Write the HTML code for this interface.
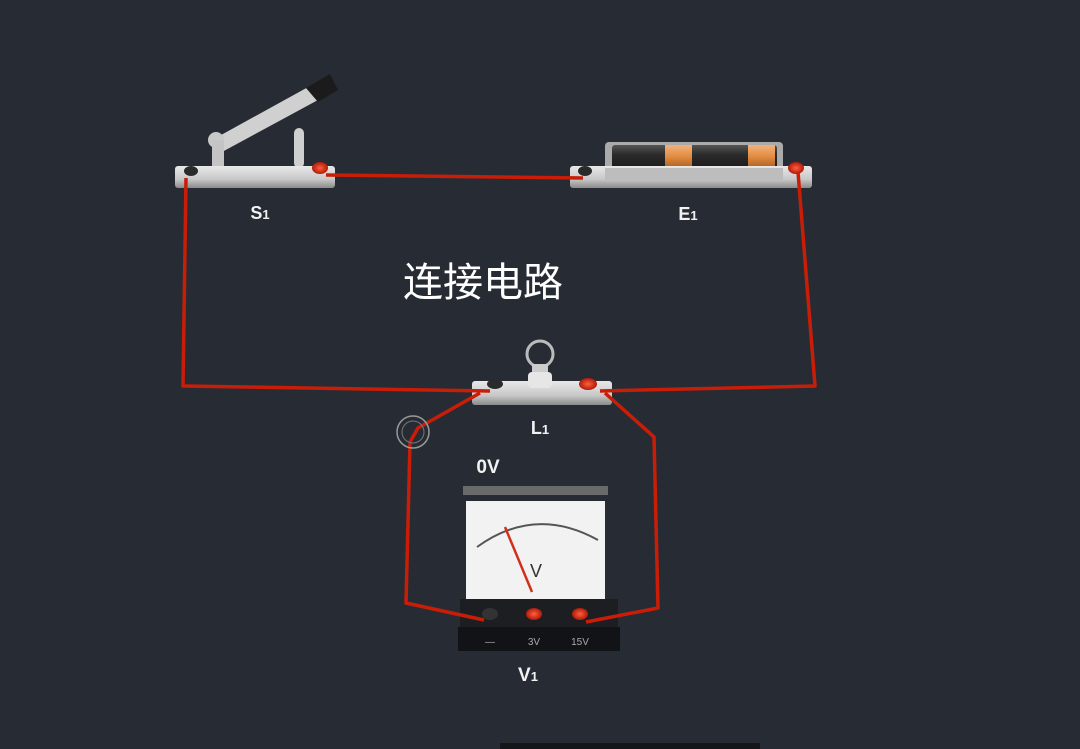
<!DOCTYPE html>
<html><head><meta charset="utf-8"><style>
html,body{margin:0;padding:0;background:#272c34;}
svg{display:block}
text{font-family:"Liberation Sans","Noto Sans CJK SC",sans-serif;fill:#f2f2f2}
</style></head><body>
<svg width="1080" height="749" viewBox="0 0 1080 749" xmlns="http://www.w3.org/2000/svg">
<defs>
<linearGradient id="metal" x1="0" y1="0" x2="0" y2="1"><stop offset="0" stop-color="#e8e8e8"/><stop offset="0.6" stop-color="#c8c8c8"/><stop offset="1" stop-color="#8a8a8a"/></linearGradient>
<linearGradient id="bat" x1="0" y1="0" x2="0" y2="1"><stop offset="0" stop-color="#555"/><stop offset="0.4" stop-color="#2b2b2b"/><stop offset="1" stop-color="#1a1a1a"/></linearGradient>
<linearGradient id="band" x1="0" y1="0" x2="0" y2="1"><stop offset="0" stop-color="#f3b27a"/><stop offset="0.5" stop-color="#e08a40"/><stop offset="1" stop-color="#a85a20"/></linearGradient>
<radialGradient id="red"><stop offset="0" stop-color="#ff6040"/><stop offset="1" stop-color="#b01a08"/></radialGradient>
</defs>
<rect width="1080" height="749" fill="#272c34"/>

<!-- switch -->
<rect x="294" y="128" width="10" height="40" rx="5" fill="#cfcfcf"/>
<polygon points="212,140 222,152 318,100 310,86" fill="#d0d0d0"/>
<polygon points="306,88 318,102 338,90 330,74" fill="#1b1b1b"/>
<circle cx="216" cy="140" r="8" fill="#c8c8c8"/>
<rect x="212" y="140" width="12" height="28" fill="#c4c4c4"/>
<rect x="175" y="166" width="160" height="22" rx="3" fill="url(#metal)"/>
<ellipse cx="191" cy="171" rx="7" ry="5" fill="#2a2a2a"/>
<ellipse cx="320" cy="168" rx="8" ry="6" fill="url(#red)"/>
<text x="260" y="219" font-size="18" font-weight="bold" text-anchor="middle">S<tspan font-size="13">1</tspan></text>

<!-- battery -->
<rect x="605" y="142" width="178" height="36" rx="4" fill="#aaa"/>
<rect x="612" y="145" width="165" height="24" rx="3" fill="url(#bat)"/>
<rect x="665" y="145" width="27" height="24" fill="url(#band)"/>
<rect x="748" y="145" width="27" height="24" fill="url(#band)"/>
<rect x="570" y="166" width="242" height="22" rx="3" fill="url(#metal)"/>
<rect x="605" y="168" width="178" height="12" fill="#bdbdbd"/>
<ellipse cx="585" cy="171" rx="7" ry="5" fill="#2a2a2a"/>
<ellipse cx="796" cy="168" rx="8" ry="6" fill="url(#red)"/>
<text x="688" y="220" font-size="18" font-weight="bold" text-anchor="middle">E<tspan font-size="13">1</tspan></text>

<text x="483" y="296" font-size="40" text-anchor="middle" style="fill:#fff">连接电路</text>

<!-- lamp -->
<circle cx="540" cy="354" r="13" fill="none" stroke="#bbb" stroke-width="3"/>
<rect x="532" y="364" width="16" height="8" fill="#ccc"/>
<rect x="472" y="381" width="140" height="24" rx="3" fill="url(#metal)"/>
<rect x="528" y="372" width="24" height="16" rx="4" fill="#e6e6e6"/>
<ellipse cx="495" cy="384" rx="8" ry="5" fill="#2a2a2a"/>
<ellipse cx="588" cy="384" rx="9" ry="6" fill="url(#red)"/>
<text x="540" y="434" font-size="18" font-weight="bold" text-anchor="middle">L<tspan font-size="13">1</tspan></text>

<!-- voltmeter -->
<text x="488" y="473" font-size="19" font-weight="bold" text-anchor="middle">0V</text>
<rect x="463" y="486" width="145" height="9" fill="#6a6a6a"/>
<rect x="466" y="501" width="139" height="98" fill="#f2f2f2"/>
<path d="M477 547 Q535 505 598 540" fill="none" stroke="#555" stroke-width="2"/>
<line x1="505" y1="527" x2="532" y2="592" stroke="#d0301c" stroke-width="2.5"/>
<text x="536" y="577" font-size="18" text-anchor="middle" style="fill:#333">V</text>
<rect x="460" y="599" width="158" height="52" fill="#1c1e22"/>
<rect x="458" y="627" width="162" height="24" fill="#111316"/>
<ellipse cx="490" cy="614" rx="8" ry="6" fill="#333"/>
<ellipse cx="534" cy="614" rx="8" ry="6" fill="url(#red)"/>
<ellipse cx="580" cy="614" rx="8" ry="6" fill="url(#red)"/>
<text x="490" y="645" font-size="10" text-anchor="middle" style="fill:#aaa">—</text>
<text x="534" y="645" font-size="10" text-anchor="middle" style="fill:#aaa">3V</text>
<text x="580" y="645" font-size="10" text-anchor="middle" style="fill:#aaa">15V</text>
<text x="528" y="681" font-size="19" font-weight="bold" text-anchor="middle">V<tspan font-size="13">1</tspan></text>

<!-- wires -->
<g fill="none" stroke="#c91d08" stroke-width="3.5" stroke-linejoin="round">
<polyline points="326,175 583,178"/>
<polyline points="186,178 183,386 490,391"/>
<polyline points="798,172 815,386 600,391"/>
<polyline points="480,393 418,428 410,442 406,603 484,620"/>
<polyline points="605,393 654,437 658,608 586,622"/>
</g>
<circle cx="413" cy="432" r="16" fill="none" stroke="#999" stroke-width="1.5"/>
<circle cx="413" cy="432" r="11" fill="none" stroke="#777" stroke-width="1"/>

<rect x="500" y="743" width="260" height="6" fill="#141619"/>
</svg>
</body></html>
